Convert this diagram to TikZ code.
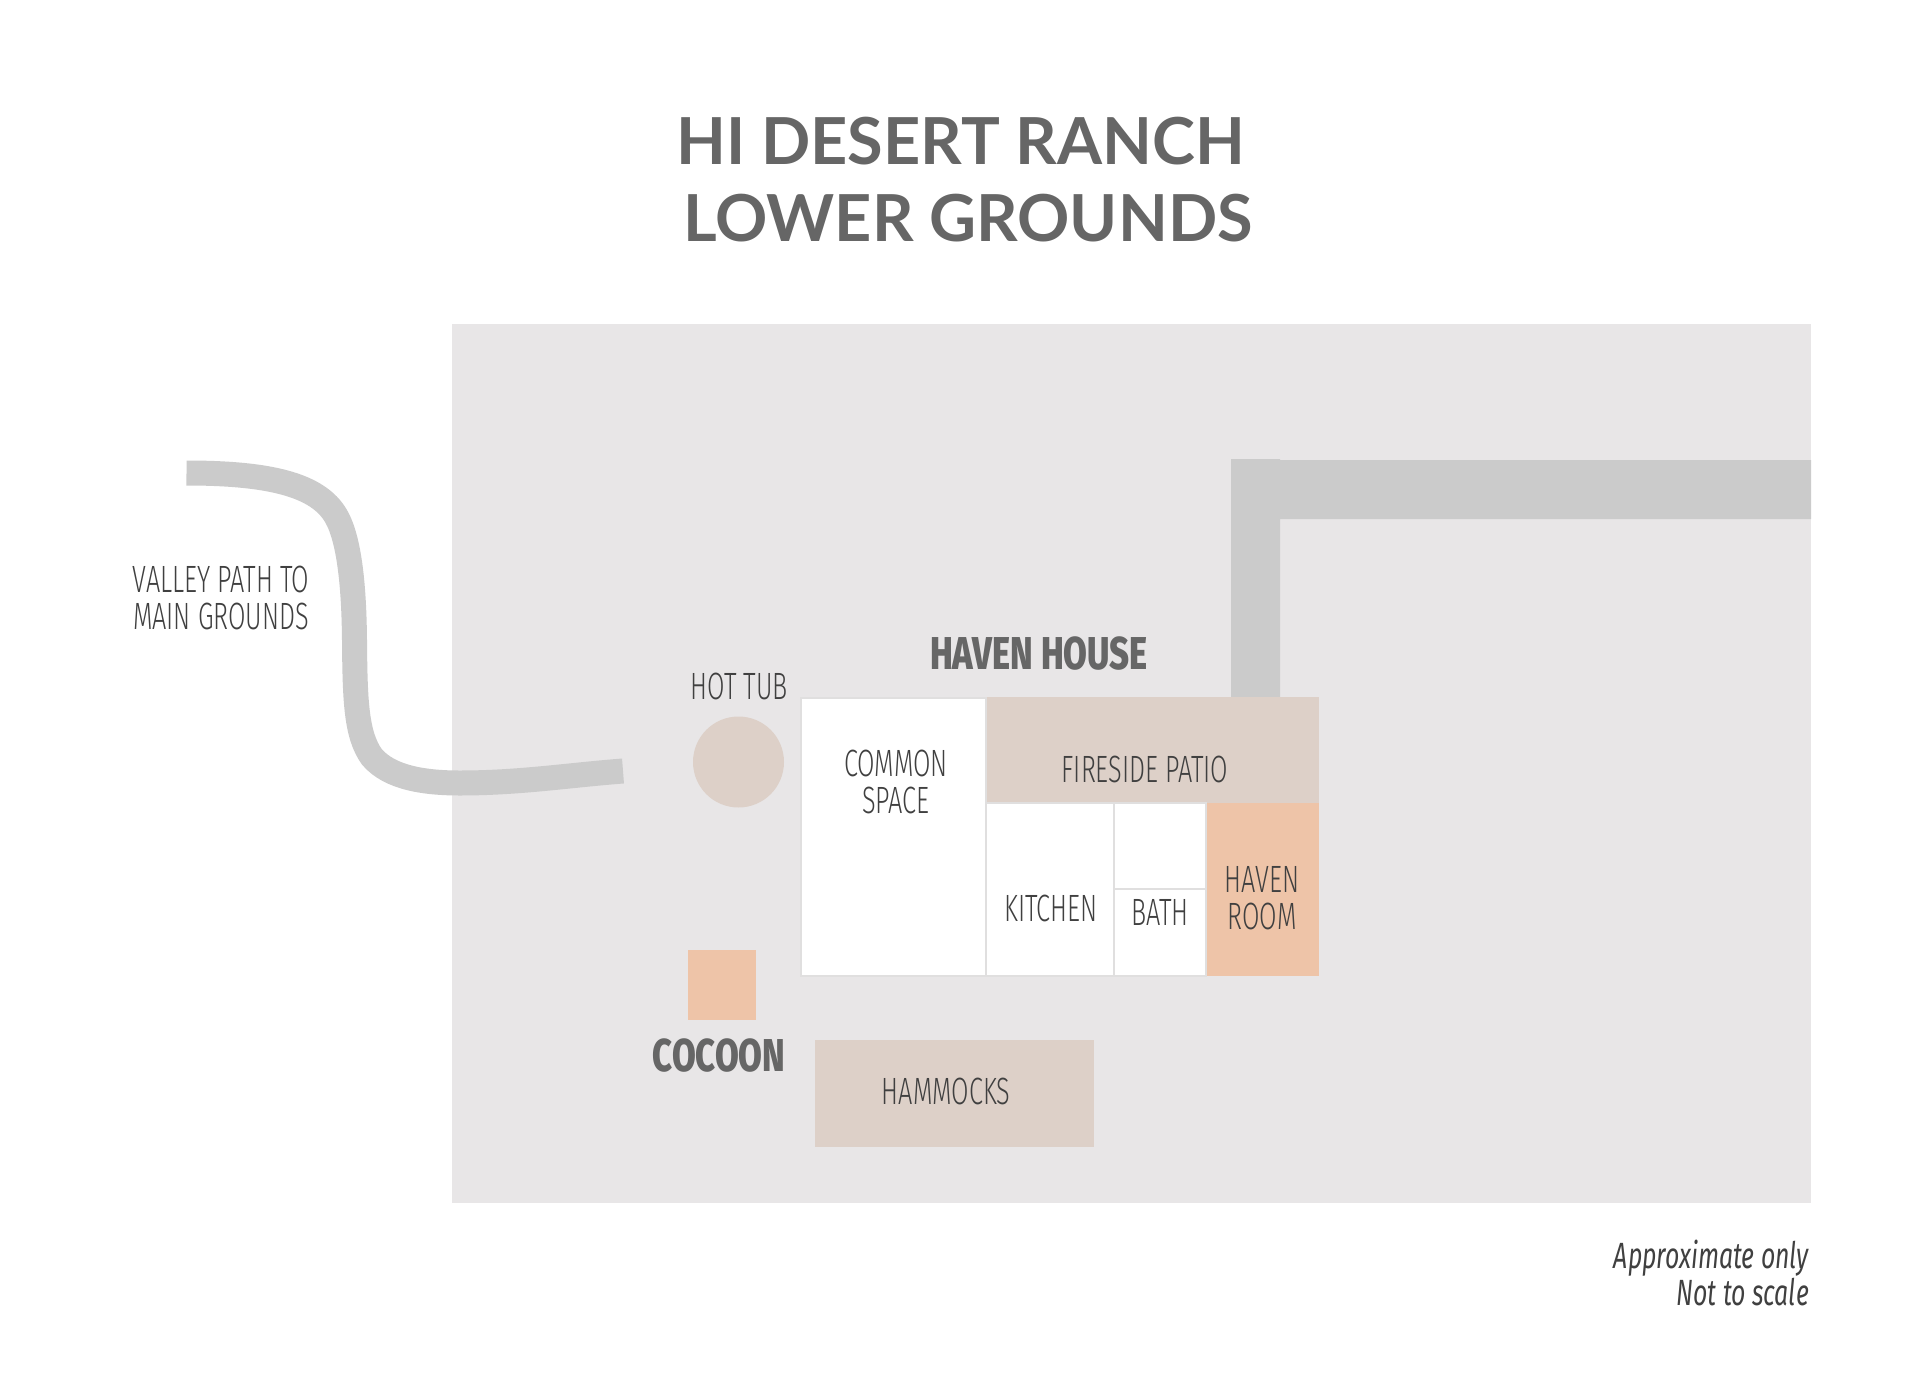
\documentclass[tikz,border=0pt]{standalone}
\usepackage{fontspec}
\setmainfont{Lato}
\newfontfamily\labf[FakeStretch=0.665,UprightFont=* Light]{Fira Sans}
\newfontfamily\notef[FakeStretch=0.68]{Fira Sans}
\newfontfamily\headf[FakeStretch=0.75,UprightFont=* ExtraBold]{Fira Sans}
\newfontfamily\titlef[UprightFont=* Bold]{Lato}
\definecolor{ground}{HTML}{E8E6E7}
\definecolor{track}{HTML}{CBCBCB}
\definecolor{beige}{HTML}{DDD0C8}
\definecolor{peach}{HTML}{EEC4A8}
\definecolor{wall}{HTML}{E0DFDF}
\definecolor{labcol}{HTML}{404040}
\definecolor{headcol}{HTML}{666666}
\tikzset{
  room/.style={fill=white,draw=wall,line width=2pt},
  lab/.style={inner sep=0pt,align=center,text=labcol,font=\labf\fontsize{38}{37}\selectfont},
  head/.style={inner sep=0pt,align=center,text=headcol,font=\headf\fontsize{46}{48}\selectfont},
  ttl/.style={inner sep=0pt,text=headcol,font=\titlef\fontsize{64.8}{66}\selectfont},
}
\begin{document}
\begin{tikzpicture}[x=1pt,y=-1pt]
\useasboundingbox (0,0) rectangle (1920,1400);
\fill[white] (0,0) rectangle (1920,1400);
% grounds
\fill[ground] (452,324) rectangle (1811,1203);
% valley path
\draw[track,line width=25pt,line cap=butt]
  (186.5,473) .. controls (270,473) and (318,485) .. (336,516)
  .. controls (350,540) and (354,590) .. (354.5,640)
  .. controls (355,700) and (356,735) .. (372,757)
  .. controls (390,778) and (425,783) .. (460,783)
  .. controls (520,783) and (570,775) .. (623,771);
% road
\fill[track] (1231,459) -- (1280,459) -- (1280,460) -- (1811,460) -- (1811,519) -- (1280,519) -- (1280,700) -- (1231,700) -- cycle;
% house
\fill[beige] (985.5,696.5) rectangle (1319,803);
\fill[peach] (1206,803) rectangle (1319,976);
\draw[room] (800.5,697.5) rectangle (985.5,976);
\draw[room] (985.5,803) rectangle (1114,976);
\draw[room] (1114,803) rectangle (1205.5,889);
\draw[room] (1114,889) rectangle (1205.5,976);
% others
\fill[beige] (738.5,762) circle (45.5);
\fill[peach] (688,950) rectangle (756,1020);
\fill[beige] (815,1040) rectangle (1094,1147);
% text
\node[ttl] (t1) at (960.5,141) {HI DESERT RANCH};
\node[ttl] (t2) at (968,218) {LOWER GROUNDS};
\node[lab] (valley) at (221,597.5) {VALLEY PATH TO\\MAIN GROUNDS};
\node[lab] (tub) at (739.5,686.5) {HOT TUB};
\node[head] (haven) at (1039,654) {HAVEN HOUSE};
\node[head] (cocoon) at (719,1056) {COCOON};
\node[lab] (common) at (896,782) {COMMON\\SPACE};
\node[lab] (patio) at (1145,769) {FIRESIDE PATIO};
\node[lab] (kitchen) at (1051,908) {KITCHEN};
\node[lab] (bath) at (1160,912) {BATH};
\node[lab] (hroom) at (1262,898.5) {HAVEN\\ROOM};
\node[lab] (hamm) at (946,1091) {HAMMOCKS};
\node[inner sep=0pt,text=labcol,align=right,anchor=east,font=\notef\itshape\fontsize{36.5}{37}\selectfont] (note) at (1809,1273) {Approximate only\\Not to scale};
\end{tikzpicture}
\end{document}
